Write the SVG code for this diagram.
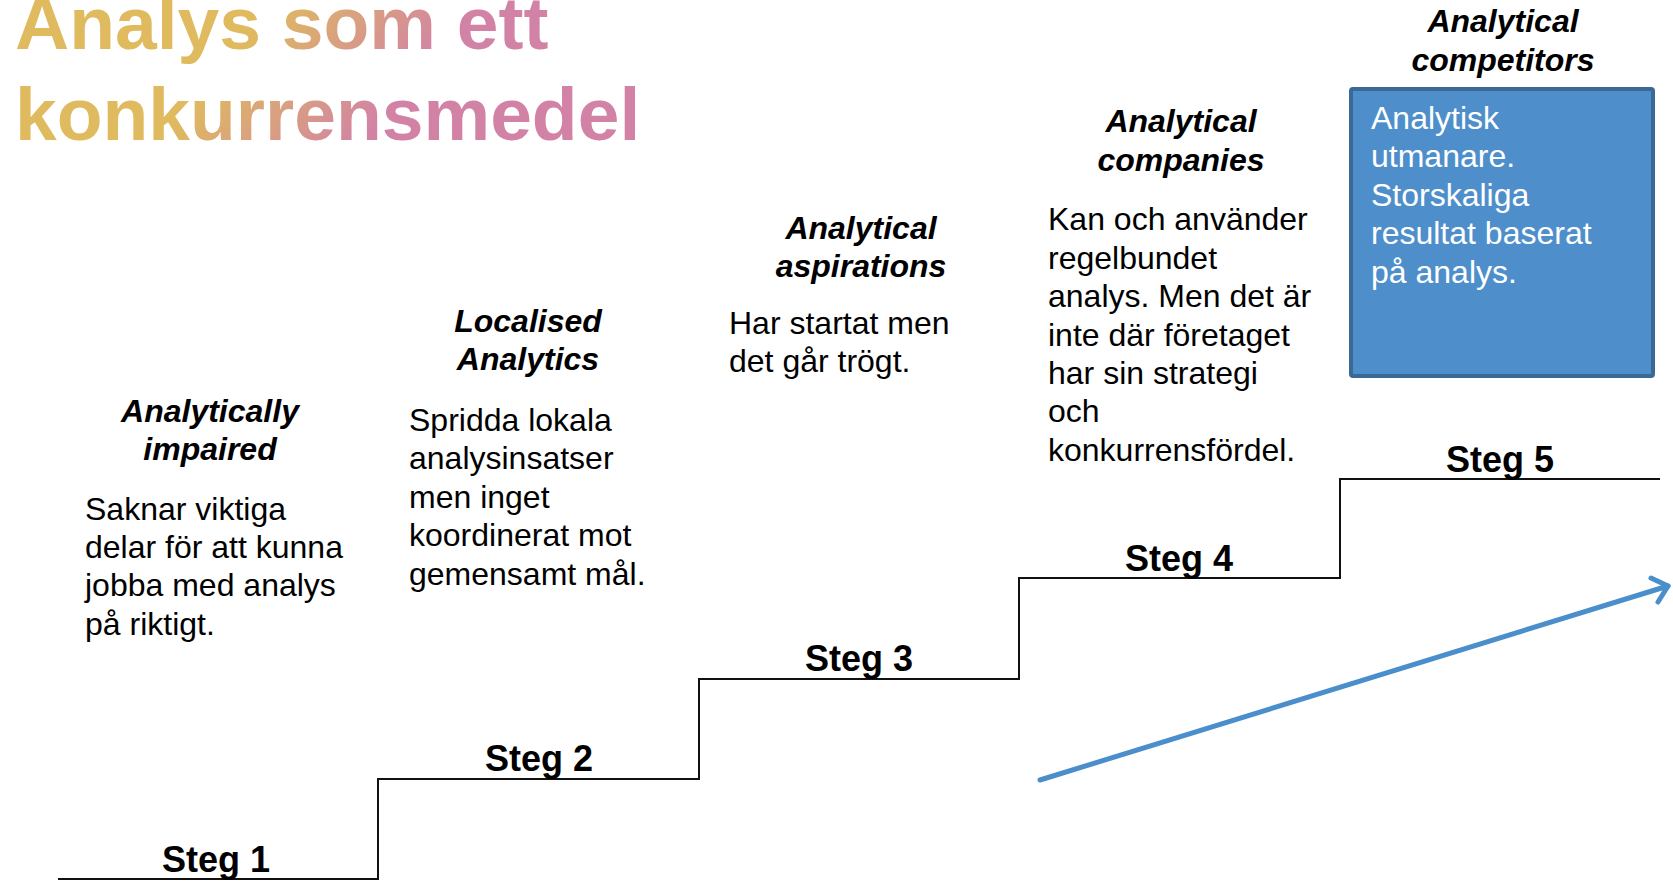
<svg xmlns="http://www.w3.org/2000/svg" width="1673" height="883" viewBox="0 0 1673 883">
<defs>
<linearGradient id="tg" gradientUnits="userSpaceOnUse" x1="260" y1="20" x2="380" y2="120">
<stop offset="0" stop-color="#DFBA5F"/>
<stop offset="1" stop-color="#D283A5"/>
</linearGradient>
<style>
.t{font-family:"Liberation Sans",Arial,sans-serif;}
.title{font-size:75px;font-weight:bold;fill:url(#tg);}
.h{font-size:32px;font-weight:bold;font-style:italic;fill:#000;text-anchor:middle;}
.b{font-size:32px;fill:#000;}
.bw{font-size:32px;fill:#fff;}
.steg{font-size:36px;font-weight:bold;fill:#000;text-anchor:middle;}
.stair{fill:none;stroke:#111;stroke-width:2;}
.arrow{fill:none;stroke:#4A8ECB;stroke-width:5;stroke-linecap:round;stroke-linejoin:round;}
</style>
</defs>
<rect width="1673" height="883" fill="#fff"/>
<g id="title" class="t">
<text class="title" x="15" y="49">Analys som ett</text>
<text class="title" x="15" y="140">konkurrensmedel</text>
</g>
<g id="connectors">
<polyline class="stair" points="58,879 378,879 378,779 699,779 699,679 1019,679 1019,578 1340,578 1340,479 1660,479"/>
<line class="arrow" x1="1040" y1="780" x2="1668" y2="586"/>
<polyline class="arrow" points="1651,578 1668,586 1658,602"/>
</g>
<g id="steg1" class="t">
<text class="steg" x="216" y="872">Steg 1</text>
<text class="h" x="210" y="422">Analytically</text>
<text class="h" x="210" y="460">impaired</text>
<text class="b" x="85" y="520">Saknar viktiga</text>
<text class="b" x="85" y="558">delar för att kunna</text>
<text class="b" x="85" y="596">jobba med analys</text>
<text class="b" x="85" y="635">på riktigt.</text>
</g>
<g id="steg2" class="t">
<text class="steg" x="539" y="771">Steg 2</text>
<text class="h" x="528" y="332">Localised</text>
<text class="h" x="528" y="370">Analytics</text>
<text class="b" x="409" y="431">Spridda lokala</text>
<text class="b" x="409" y="469">analysinsatser</text>
<text class="b" x="409" y="508">men inget</text>
<text class="b" x="409" y="546">koordinerat mot</text>
<text class="b" x="409" y="585">gemensamt mål.</text>
</g>
<g id="steg3" class="t">
<text class="steg" x="859" y="671">Steg 3</text>
<text class="h" x="861" y="239">Analytical</text>
<text class="h" x="861" y="277">aspirations</text>
<text class="b" x="729" y="334">Har startat men</text>
<text class="b" x="729" y="372">det går trögt.</text>
</g>
<g id="steg4" class="t">
<text class="steg" x="1179" y="571">Steg 4</text>
<text class="h" x="1181" y="132">Analytical</text>
<text class="h" x="1181" y="171">companies</text>
<text class="b" x="1048" y="230">Kan och använder</text>
<text class="b" x="1048" y="269">regelbundet</text>
<text class="b" x="1048" y="307">analys. Men det är</text>
<text class="b" x="1048" y="346">inte där företaget</text>
<text class="b" x="1048" y="384">har sin strategi</text>
<text class="b" x="1048" y="422">och</text>
<text class="b" x="1048" y="461">konkurrensfördel.</text>
</g>
<g id="steg5" class="t">
<text class="steg" x="1500" y="472">Steg 5</text>
<text class="h" x="1503" y="32">Analytical</text>
<text class="h" x="1503" y="71">competitors</text>
<rect x="1351" y="89" width="302" height="287" rx="2" fill="#4E8FCB" stroke="#3B6996" stroke-width="4"/>
<text class="bw" x="1371" y="129">Analytisk</text>
<text class="bw" x="1371" y="167">utmanare.</text>
<text class="bw" x="1371" y="206">Storskaliga</text>
<text class="bw" x="1371" y="244">resultat baserat</text>
<text class="bw" x="1371" y="283">på analys.</text>
</g>
</svg>
